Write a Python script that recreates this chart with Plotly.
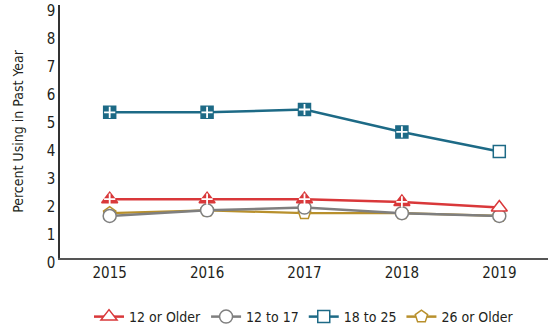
import plotly.graph_objects as go

years = [2015, 2016, 2017, 2018, 2019]

age_12_older = [2.1, 2.1, 2.1, 2.0, 1.8]
age_12_17 = [1.5, 1.7, 1.8, 1.6, 1.5]
age_18_25 = [5.2, 5.2, 5.3, 4.5, 3.8]
age_26_older = [1.6, 1.7, 1.6, 1.6, 1.5]

# "+" = significantly different from 2019
sig_12_older = [True, True, True, True, False]
sig_12_17 = [False, False, False, False, False]
sig_18_25 = [True, True, True, True, False]
sig_26_older = [False, False, False, False, False]

names = ["12 or Older", "12 to 17", "18 to 25", "26 or Older"]
colors = {"12 or Older": "#d9383a", "12 to 17": "#7f7f7f",
          "18 to 25": "#1d6a86", "26 or Older": "#b8902c"}
symbols = {"12 or Older": "triangle-up", "12 to 17": "circle",
           "18 to 25": "square", "26 or Older": "pentagon"}
sizes = {"12 or Older": 14, "12 to 17": 13, "18 to 25": 12, "26 or Older": 13}
series = {"12 or Older": (age_12_older, sig_12_older),
          "12 to 17": (age_12_17, sig_12_17),
          "18 to 25": (age_18_25, sig_18_25),
          "26 or Older": (age_26_older, sig_26_older)}

font = "DejaVu Sans Condensed, Liberation Sans Narrow, Arial Narrow, sans-serif"
fig = go.Figure()

draw_order = ["26 or Older", "12 to 17", "12 or Older", "18 to 25"]
for n in draw_order:
    vals, sig = series[n]
    c = colors[n]
    fill = [c if s else "white" for s in sig]
    fig.add_trace(go.Scatter(
        x=years, y=vals, mode="lines+markers", name=n, showlegend=False,
        line=dict(color=c, width=2.2 if n == "26 or Older" else 2.5),
        marker=dict(symbol=symbols[n], size=sizes[n], color=fill,
                    line=dict(color=c, width=1.5)),
    ))
    sx = [y for y, s in zip(years, sig) if s]
    sy = [v for v, s in zip(vals, sig) if s]
    if sx:
        fig.add_trace(go.Scatter(
            x=sx, y=sy, mode="markers", showlegend=False, hoverinfo="skip",
            marker=dict(symbol="cross-thin", size=8,
                        line=dict(color="white", width=1.8)),
        ))

for n in names:
    c = colors[n]
    fig.add_trace(go.Scatter(
        x=[None], y=[None], mode="lines+markers", name=n,
        line=dict(color=c, width=2.5),
        marker=dict(symbol=symbols[n], size=sizes[n], color="white",
                    line=dict(color=c, width=1.5)),
    ))

fig.update_layout(
    width=556, height=331,
    margin=dict(l=60, r=8, t=5, b=73, autoexpand=False),
    plot_bgcolor="white", paper_bgcolor="white",
    font=dict(family=font, size=15, color="#231f20"),
    showlegend=True,
    legend=dict(orientation="h", x=0.5, xanchor="center", y=-0.17, yanchor="top",
                font=dict(family=font, size=14), itemwidth=30,
                traceorder="normal"),
    xaxis=dict(range=[2014.49, 2019.5], tickmode="array", tickvals=years,
               ticktext=[str(y) for y in years], showgrid=False, zeroline=False,
               showline=True, linecolor="#555555", linewidth=1.5, ticks=""),
    yaxis=dict(range=[0, 9.03], tickvals=list(range(10)), showgrid=False, zeroline=False,
               showline=True, linecolor="#333333", linewidth=1.5, ticks="",
               ticklabeloverflow="allow", ticklabelshift=5,
               title=dict(text="Percent Using in Past Year", font=dict(size=14),
                          standoff=20)),
)

fig.write_html("out.html")
